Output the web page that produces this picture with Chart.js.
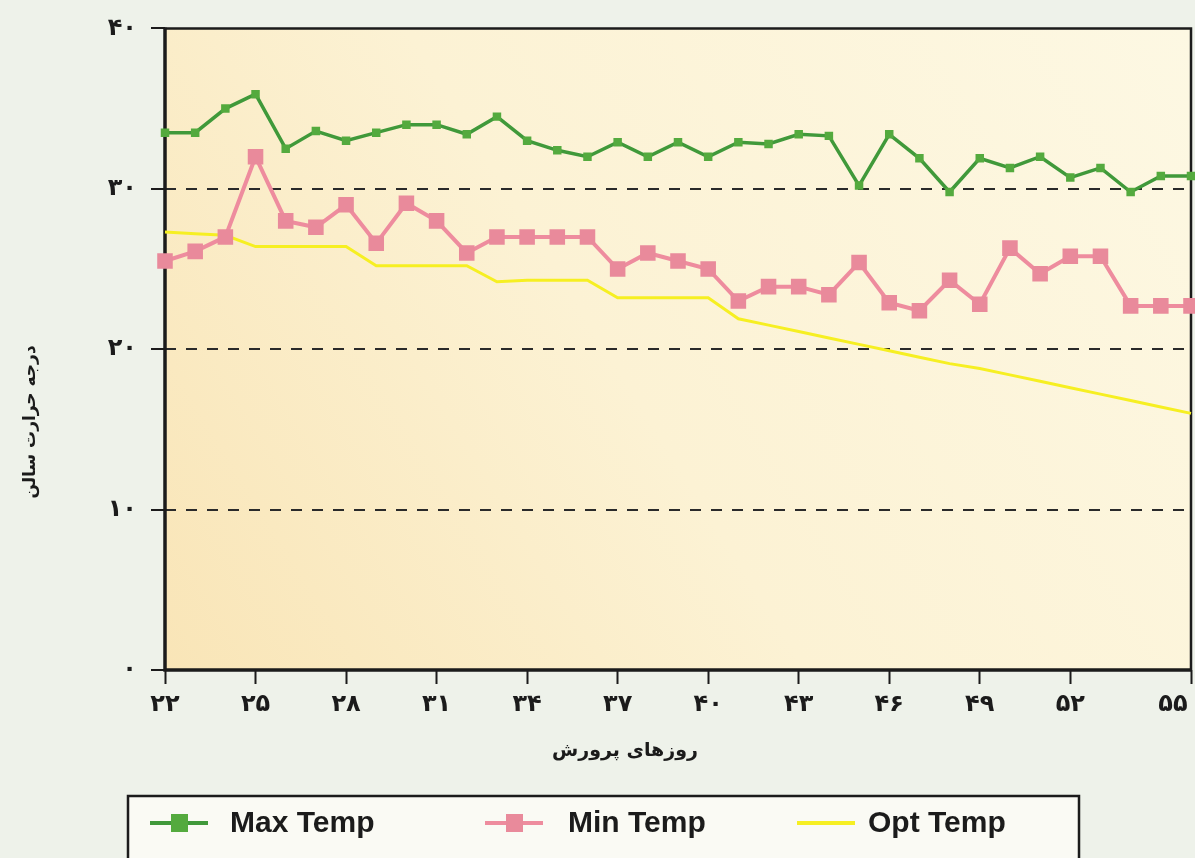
<!DOCTYPE html>
<html>
<head>
<meta charset="utf-8">
<script src="https://cdn.jsdelivr.net/npm/chart.js@4.4.1/dist/chart.umd.min.js"></script>
<style>
  html, body { margin: 0; padding: 0; background: #eef2ea; }
  #wrap { width: 1195px; height: 858px; }
</style>
</head>
<body>
<div id="wrap"><canvas id="temp-chart" width="1195" height="858"></canvas></div>
<script>
// one point per day, labels only every third day (last one printed as 55 in the source)
const dayTicks = [
  "۲۲", "", "", "۲۵", "", "", "۲۸", "", "", "۳۱", "", "", "۳۴", "", "", "۳۷", "", "",
  "۴۰", "", "", "۴۳", "", "", "۴۶", "", "", "۴۹", "", "", "۵۲", "", "", "", "۵۵"
];
const tempTicks = ["۰", "۱۰", "۲۰", "۳۰", "۴۰"];

const maxTemp = [
  33.5, 33.5, 35.0, 35.9, 32.5, 33.6, 33.0, 33.5, 34.0, 34.0, 33.4, 34.5,
  33.0, 32.4, 32.0, 32.9, 32.0, 32.9, 32.0, 32.9, 32.8, 33.4, 33.3,
  30.2, 33.4, 31.9, 29.8, 31.9, 31.3, 32.0, 30.7, 31.3, 29.8, 30.8, 30.8
];
const minTemp = [
  25.5, 26.1, 27.0, 32.0, 28.0, 27.6, 29.0, 26.6, 29.1, 28.0, 26.0, 27.0,
  27.0, 27.0, 27.0, 25.0, 26.0, 25.5, 25.0, 23.0, 23.9, 23.9, 23.4,
  25.4, 22.9, 22.4, 24.3, 22.8, 26.3, 24.7, 25.8, 25.8, 22.7, 22.7, 22.7
];
const optTemp = [
  27.3, 27.2, 27.1, 26.4, 26.4, 26.4, 26.4, 25.2, 25.2, 25.2, 25.2, 24.2,
  24.3, 24.3, 24.3, 23.2, 23.2, 23.2, 23.2, 21.9, 21.5, 21.1, 20.7,
  20.3, 19.9, 19.5, 19.1, 18.8, 18.4, 18.0, 17.6, 17.2, 16.8, 16.4, 16.0
];

const seriesNames = ["Max Temp", "Min Temp", "Opt Temp"];
const yTitle = "درجه حرارت سالن";
const xTitle = "روزهای پرورش";

const INK = "#1b1b1b";
const FA_FONT = "'DejaVu Sans', sans-serif";
const LEGEND_FONT = "bold 30px 'Liberation Sans Narrow', 'Liberation Sans', Arial, sans-serif";

const paper = {
  id: "paper",
  beforeDraw(chart) {
    const { ctx, chartArea: a } = chart;
    ctx.save();
    ctx.fillStyle = "#eef2ea";
    ctx.fillRect(0, 0, chart.width, chart.height);
    const g = ctx.createLinearGradient(a.left, a.bottom, a.right, a.top);
    g.addColorStop(0, "#f9e5b7");
    g.addColorStop(0.45, "#fcf2d4");
    g.addColorStop(1, "#fdf8e3");
    ctx.fillStyle = g;
    ctx.fillRect(a.left, a.top, a.right - a.left, a.bottom - a.top);
    ctx.restore();
  },
  beforeDatasetsDraw(chart) {
    const { ctx, chartArea: a } = chart;
    ctx.save();
    ctx.strokeStyle = INK;
    ctx.lineWidth = 2.5;
    ctx.beginPath();
    ctx.moveTo(a.left, a.top);
    ctx.lineTo(a.right, a.top);
    ctx.lineTo(a.right, a.bottom);
    ctx.stroke();
    ctx.lineWidth = 3.5;
    ctx.beginPath();
    ctx.moveTo(a.left, a.top - 1);
    ctx.lineTo(a.left, a.bottom);
    ctx.lineTo(a.right + 1, a.bottom);
    ctx.stroke();
    ctx.restore();
  },
  afterDraw(chart) {
    const { ctx } = chart;
    ctx.save();
    // axis titles
    ctx.fillStyle = INK;
    ctx.font = "bold 19px " + FA_FONT;
    ctx.textAlign = "center";
    ctx.textBaseline = "middle";
    ctx.fillText(xTitle, 625, 751);
    ctx.font = "bold 17px " + FA_FONT;
    ctx.translate(31, 422);
    ctx.rotate(-Math.PI / 2);
    ctx.fillText(yTitle, 0, 0);
    ctx.restore();

    // boxed legend under the chart
    ctx.save();
    ctx.fillStyle = "#fafaf4";
    ctx.fillRect(128, 796, 951, 80);
    ctx.strokeStyle = INK;
    ctx.lineWidth = 2.5;
    ctx.strokeRect(128, 796, 951, 80);
    const slots = [[150, 230], [485, 568], [797, 868]];
    chart.data.datasets.forEach((ds, i) => {
      const [lx, tx] = slots[i];
      const y = 823;
      ctx.strokeStyle = ds.borderColor;
      ctx.lineWidth = 4;
      ctx.beginPath();
      ctx.moveTo(lx, y);
      ctx.lineTo(lx + 58, y);
      ctx.stroke();
      if (ds.pointRadius > 0) {
        ctx.fillStyle = ds.pointBackgroundColor;
        ctx.fillRect(lx + 21, y - 9, 17, 18);
      }
      ctx.fillStyle = INK;
      ctx.font = LEGEND_FONT;
      ctx.textAlign = "left";
      ctx.textBaseline = "middle";
      ctx.fillText(ds.label, tx, y + 1);
    });
    ctx.restore();
  }
};

new Chart(document.getElementById("temp-chart"), {
  type: "line",
  data: {
    labels: dayTicks,
    datasets: [
      {
        label: seriesNames[0],
        data: maxTemp,
        borderColor: "#40993a",
        borderWidth: 3.5,
        pointStyle: "rect",
        pointRadius: 6,
        pointBackgroundColor: "#54aa3e",
        pointBorderColor: "#54aa3e",
        pointBorderWidth: 0,
        tension: 0
      },
      {
        label: seriesNames[1],
        data: minTemp,
        borderColor: "#ee8c9e",
        borderWidth: 4,
        pointStyle: "rect",
        pointRadius: 11,
        pointBackgroundColor: "#e98a9b",
        pointBorderColor: "#e98a9b",
        pointBorderWidth: 0,
        tension: 0
      },
      {
        label: seriesNames[2],
        data: optTemp,
        borderColor: "#f6ef22",
        borderWidth: 3,
        pointRadius: 0,
        tension: 0
      }
    ]
  },
  options: {
    responsive: false,
    animation: false,
    layout: { autoPadding: false, padding: { left: 0, right: 4, top: 27, bottom: 0 } },
    plugins: {
      legend: { display: false },
      tooltip: { enabled: false }
    },
    scales: {
      x: {
        type: "category",
        offset: false,
        afterFit: (s) => {
          s.height = 188;
          s.paddingRight = 0;
          s.paddingLeft = 0;
        },
        border: { display: false },
        grid: {
          drawOnChartArea: false,
          tickLength: 14,
          tickWidth: 2,
          tickColor: (c) => (dayTicks[c.index] ? INK : "rgba(0,0,0,0)")
        },
        ticks: {
          autoSkip: false,
          maxRotation: 0,
          padding: 6,
          color: INK,
          font: { family: FA_FONT, size: 24, weight: "bold" },
          // last label sits flush with the right edge, pad it so it is not cut
          callback: (v, i) => (i === dayTicks.length - 1 ? dayTicks[i] + "\u2002\u2002\u2002" : dayTicks[i])
        }
      },
      y: {
        min: 0,
        max: 40,
        afterFit: (s) => { s.width = 165; },
        border: { display: false, dash: [11, 10] },
        grid: {
          color: (c) => (c.tick && (c.tick.value === 0 || c.tick.value === 40) ? "rgba(0,0,0,0)" : "#2a2a2a"),
          lineWidth: 2,
          tickLength: 14,
          tickWidth: 2,
          tickColor: INK
        },
        ticks: {
          stepSize: 10,
          padding: 14,
          color: INK,
          font: { family: FA_FONT, size: 24, weight: "bold" },
          callback: (v) => tempTicks[v / 10]
        }
      }
    }
  },
  plugins: [paper]
});
</script>
</body>
</html>
